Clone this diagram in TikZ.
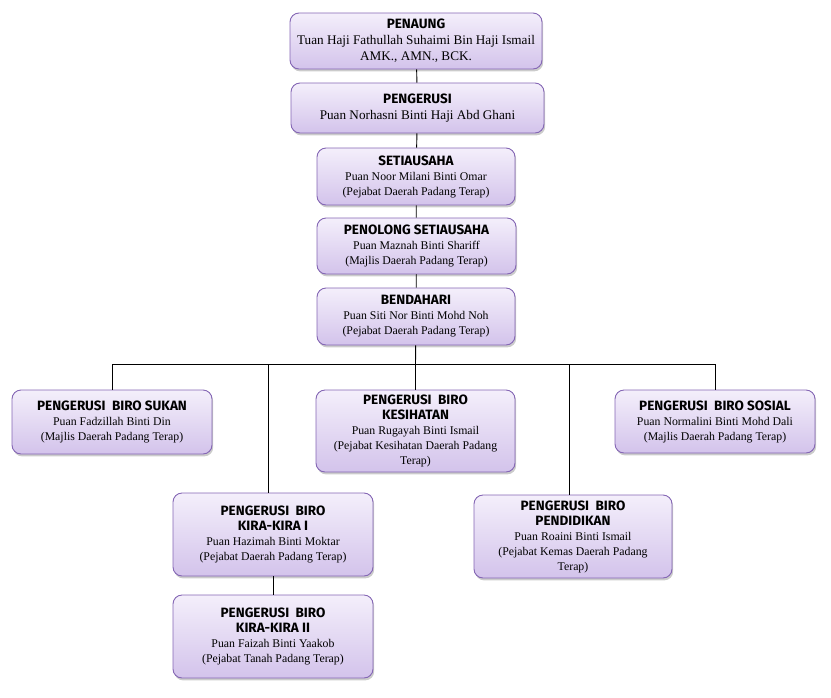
\documentclass[tikz,border=0pt]{standalone}
\usepackage{fontspec}
\setmainfont{Liberation Serif}
\newfontfamily\headfont{Fira Sans}
\usetikzlibrary{shadows}
\definecolor{postline}{HTML}{8466B4}
\definecolor{posttop}{HTML}{F4EFFB}
\definecolor{postbottom}{HTML}{D3C3EB}
\tikzset{
	post/.style={
		rectangle,
		rounded corners=9pt,
		draw=postline,
		line width=0.9pt,
		top color=posttop,
		bottom color=postbottom,
		drop shadow={shadow xshift=1.2pt, shadow yshift=-2.4pt, fill=black!45, opacity=0.45},
		align=center,
		inner sep=0pt,
		font=\fontsize{11.8}{15}\selectfont,
	},
	bigpost/.style={
		post,
		font=\fontsize{13.2}{16}\selectfont,
	},
	link/.style={
		draw=black,
		line width=0.9pt,
	},
}
\newcommand{\head}[1]{{\headfont\bfseries\fontsize{13.5}{16}\selectfont #1}}

\begin{document}
\begin{tikzpicture}[x=1pt,y=1pt]
		\useasboundingbox (0,0) rectangle (831,-697);

		% top line
		\node[bigpost, minimum width=252, minimum height=56] (penaung) at (416,-41)
			{\head{PENAUNG}\\ Tuan Haji Fathullah Suhaimi Bin Haji Ismail\\ AMK., AMN., BCK.} ;
		\node[bigpost, minimum width=253, minimum height=50] (pengerusi) at (417.5,-108)
			{\head{PENGERUSI}\\ Puan Norhasni Binti Haji Abd Ghani} ;
		\node[post, minimum width=198, minimum height=57] (setiausaha) at (416,-176.5)
			{\head{SETIAUSAHA}\\ Puan Noor Milani Binti Omar\\ (Pejabat Daerah Padang Terap)} ;
		\node[post, minimum width=199, minimum height=56] (penolong) at (416.5,-246)
			{\head{PENOLONG SETIAUSAHA}\\ Puan Maznah Binti Shariff\\ (Majlis Daerah Padang Terap)} ;
		\node[post, minimum width=198, minimum height=57] (bendahari) at (416,-316.5)
			{\head{BENDAHARI}\\ Puan Siti Nor Binti Mohd Noh\\ (Pejabat Daerah Padang Terap)} ;

		% biro
		\node[post, minimum width=200, minimum height=64] (sukan) at (112,-422)
			{\head{PENGERUSI\ \ BIRO SUKAN}\\ Puan Fadzillah Binti Din\\ (Majlis Daerah Padang Terap)} ;
		\node[post, minimum width=199, minimum height=82] (kesihatan) at (415.5,-431)
			{\head{PENGERUSI\ \ BIRO}\\ \head{KESIHATAN}\\ Puan Rugayah Binti Ismail\\ (Pejabat Kesihatan Daerah Padang\\ Terap)} ;
		\node[post, minimum width=200, minimum height=63] (sosial) at (715,-421.5)
			{\head{PENGERUSI\ \ BIRO SOSIAL}\\ Puan Normalini Binti Mohd Dali\\ (Majlis Daerah Padang Terap)} ;
		\node[post, minimum width=200, minimum height=83] (kiraI) at (273,-534.5)
			{\head{PENGERUSI\ \ BIRO}\\ \head{KIRA-KIRA I}\\ Puan Hazimah Binti Moktar\\ (Pejabat Daerah Padang Terap)} ;
		\node[post, minimum width=198, minimum height=83] (pendidikan) at (573,-536.5)
			{\head{PENGERUSI\ \ BIRO}\\ \head{PENDIDIKAN}\\ Puan Roaini Binti Ismail\\ (Pejabat Kemas Daerah Padang\\ Terap)} ;
		\node[post, minimum width=200, minimum height=83] (kiraII) at (273,-636.5)
			{\head{PENGERUSI\ \ BIRO}\\ \head{KIRA-KIRA II}\\ Puan Faizah Binti Yaakob\\ (Pejabat Tanah Padang Terap)} ;

		\coordinate (bus) at (415.5,-364) ;

		\draw[link] (penaung) -- (pengerusi) ;
		\draw[link] (pengerusi) -- (setiausaha) ;
		\draw[link] (setiausaha) -- (penolong) ;
		\draw[link] (penolong) -- (bendahari) ;
		\draw[link] (bendahari) -- (bus) ;

		\draw[link] (bus) -| (sukan.north) ;
		\draw[link] (bus) -| (sosial.north) ;
		\draw[link] (bus) -- (kesihatan.north) ;
		\draw[link] (bus) -| ([xshift=-5pt]kiraI.north) ;
		\draw[link] (bus) -| ([xshift=-4pt]pendidikan.north) ;
		\draw[link] (kiraI) -- (kiraII) ;

	\end{tikzpicture}
\end{document}
